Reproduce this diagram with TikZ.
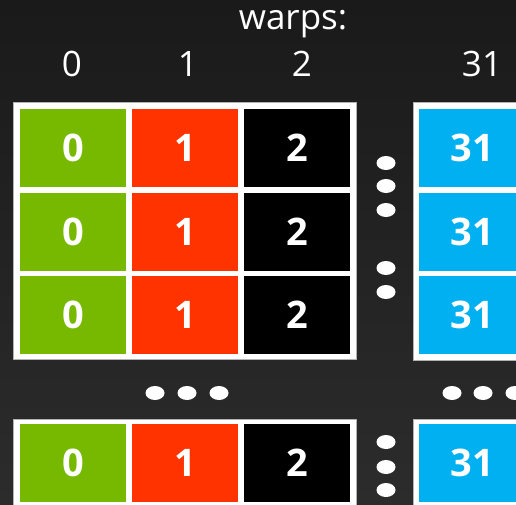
\documentclass[tikz,border=0pt]{standalone}
\usepackage{fontspec}
\setmainfont{Open Sans}
\definecolor{bgtop}{HTML}{1A1A1A}
\definecolor{bgbot}{HTML}{2C2C2C}
\definecolor{nvgreen}{HTML}{76B900}
\definecolor{nvred}{HTML}{FF3300}
\definecolor{nvblue}{HTML}{00B0F0}
\tikzset{
  cell/.style={draw=none, minimum width=106pt, minimum height=78pt, inner sep=0pt, text=white,
    font=\fontsize{38}{40}\selectfont\bfseries},
  bluecell/.style={cell, fill=nvblue, minimum width=111pt},
  frame/.style={fill=white, draw=gray!60, line width=0.6pt},
  hdr/.style={text=white, inner sep=0pt, font=\fontsize{35}{40}\selectfont},
  dot/.style={fill=white, draw=none}
}
\begin{document}
\begin{tikzpicture}[x=1pt,y=-1pt]
\useasboundingbox (0,0) rectangle (516,504);
\clip (0,0) rectangle (516,504);
\shade[top color=bgtop, bottom color=bgbot] (0,0) rectangle (516,504);
% headers
\node[hdr] (warps) at (293,24) {warps:};
\node[hdr] (h0) at (72,64) {0};
\node[hdr] (h1) at (188,64) {1};
\node[hdr] (h2) at (302,64) {2};
\node[hdr] (h31) at (482,64) {31};
% frames
\filldraw[frame] (13,102) rectangle (356,359);
\filldraw[frame] (413,102) rectangle (540,360);
\filldraw[frame] (13,419) rectangle (356,540);
\filldraw[frame] (413,419) rectangle (540,540);
% top block rows
\foreach \r/\yc in {1/147.5, 2/231.5, 3/314.5}{
  \node[cell, fill=nvgreen] (g\r) at (73,\yc) {0};
  \node[cell, fill=nvred] (r\r) at (185,\yc) {1};
  \node[cell, fill=black] (k\r) at (297,\yc) {2};
  \node[bluecell, anchor=west] (b\r) at (419,\yc) {\hspace*{-5pt}31};
}
% bottom row
\node[cell, fill=nvgreen] (g4) at (73,463) {0};
\node[cell, fill=nvred] (r4) at (185,463) {1};
\node[cell, fill=black] (k4) at (297,463) {2};
\node[bluecell, anchor=west] (b4) at (419,463) {\hspace*{-5pt}31};
% vertical dots top
\foreach \yy in {163,186,210,268,292}{
  \fill[dot] (386,\yy) ellipse [x radius=9.5, y radius=7];
}
% horizontal dots
\foreach \xx in {155,187,219,452,483,515}{
  \fill[dot] (\xx,393) ellipse [x radius=9.5, y radius=7];
}
% vertical dots bottom
\foreach \yy in {442,467,490}{
  \fill[dot] (386,\yy) ellipse [x radius=9.5, y radius=7];
}
\end{tikzpicture}
\end{document}
